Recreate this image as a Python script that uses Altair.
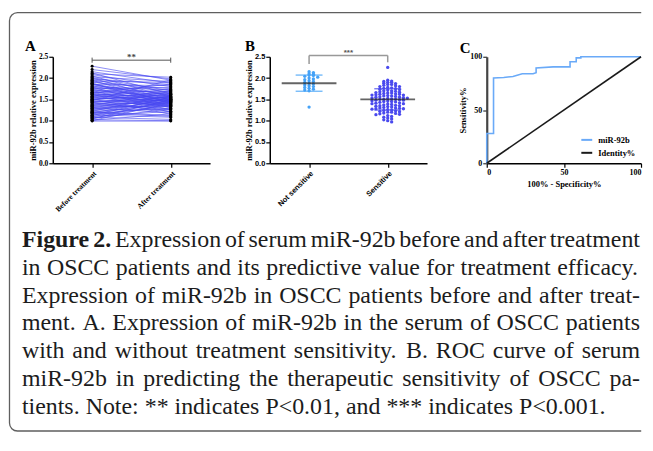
import altair as alt
import pandas as pd
import math

# ---------------- data ----------------
cats_a = ["Before treatment", "After treatment"]
before = [2.28, 2.20, 2.15, 2.12, 2.10, 2.08, 2.05, 2.03, 2.01, 2.00,
          1.98, 1.96, 1.95, 1.93, 1.92, 1.90, 1.88, 1.87, 1.85, 1.84,
          1.82, 1.80, 1.79, 1.78, 1.76, 1.75, 1.74, 1.72, 1.71, 1.70,
          1.68, 1.67, 1.66, 1.65, 1.63, 1.62, 1.61, 1.60, 1.58, 1.57,
          1.56, 1.55, 1.54, 1.52, 1.51, 1.50, 1.49, 1.48, 1.46, 1.45,
          1.44, 1.43, 1.42, 1.40, 1.39, 1.38, 1.36, 1.35, 1.34, 1.33,
          1.31, 1.30, 1.29, 1.28, 1.26, 1.25, 1.24, 1.22, 1.21, 1.20,
          1.18, 1.17, 1.16, 1.14, 1.13, 1.12, 1.10, 1.09, 1.08, 1.06,
          1.05, 1.04, 1.02, 1.01, 1.00, 0.99, 1.19, 1.47, 1.64, 1.86]
after = [1.95, 1.98, 1.88, 1.62, 2.02, 1.80, 1.55, 1.92, 1.70, 1.48,
         1.85, 1.66, 1.40, 1.90, 1.58, 1.75, 1.35, 1.52, 1.82, 1.60,
         1.45, 1.72, 1.30, 1.64, 1.50, 1.78, 1.42, 1.56, 1.25, 1.68,
         1.47, 1.62, 1.38, 1.86, 1.53, 1.20, 1.58, 1.44, 1.74, 1.50,
         1.32, 1.65, 1.46, 1.55, 1.15, 1.60, 1.42, 1.70, 1.36, 1.52,
         1.48, 1.22, 1.63, 1.40, 1.56, 1.28, 1.45, 1.68, 1.33, 1.50,
         1.18, 1.58, 1.42, 1.37, 1.54, 1.26, 1.47, 1.60, 1.12, 1.40,
         1.52, 1.30, 1.44, 1.08, 1.35, 1.56, 1.22, 1.46, 1.03, 1.38,
         1.28, 1.50, 1.00, 1.16, 1.42, 0.99, 1.10, 1.96, 1.34, 1.45]
sig_a = "**"
bracket_a_y = 2.42
bracket_a_cap = [2.36, 2.48]
sig_a_y = 2.50

cats_b = ["Not sensitive", "Sensitive"]
not_sensitive = [2.15, 2.13, 2.10, 2.09, 2.07, 2.06, 2.04, 2.02, 2.00, 1.98,
                 1.96, 1.94, 1.92, 1.90, 1.88, 1.86, 1.84, 1.82, 1.80, 1.78,
                 1.76, 1.74, 1.72, 1.70, 1.32]
sensitive = [2.25,
             1.95, 1.93, 1.92, 1.90, 1.90, 1.88, 1.87, 1.85, 1.85, 1.83,
             1.82, 1.80, 1.80, 1.78, 1.77, 1.76, 1.75, 1.74, 1.73, 1.72,
             1.70, 1.70, 1.69, 1.68, 1.67, 1.66, 1.65, 1.65, 1.64, 1.63,
             1.62, 1.62, 1.61, 1.60, 1.60, 1.59, 1.58, 1.58, 1.57, 1.56,
             1.55, 1.55, 1.54, 1.53, 1.53, 1.52, 1.51, 1.50, 1.50, 1.50,
             1.49, 1.48, 1.48, 1.47, 1.46, 1.45, 1.45, 1.44, 1.43, 1.42,
             1.41, 1.40, 1.40, 1.39, 1.38, 1.37, 1.36, 1.35, 1.35, 1.34,
             1.33, 1.32, 1.31, 1.30, 1.30, 1.29, 1.28, 1.28, 1.27, 1.26,
             1.25, 1.24, 1.23, 1.22, 1.21, 1.20, 1.20, 1.18, 1.17, 1.16,
             1.15, 1.14, 1.12, 1.10, 1.08, 1.06, 1.04, 1.02, 1.00, 0.97]
b_mean = [1.88, 1.50]
b_sd = [0.19, 0.25]
sig_b = "***"
bracket_b_y = 2.53
bracket_b_drop = [2.33, 2.37]
sig_b_y = 2.60

roc_fpr = [0, 0, 4.4, 4.4, 11, 17, 23, 30, 32, 32, 43, 54, 54, 58, 58, 61, 61, 100]
roc_tpr = [0, 28, 28, 80, 80.5, 81.5, 84, 84, 85, 89.5, 90.5, 90.5, 95.3, 95.3, 99, 99, 100, 100]
ident_fpr = [0, 100]
ident_tpr = [0, 100]
legend_names = ["miR-92b", "Identity%"]

panel_letters = ["A", "B", "C"]
y_title_ab = "miR-92b relative expression"
c_x_title = "100% - Specificity%"
c_y_title = "Sensitivity%"

caption_bold = ["Figure", "2."]
caption_lines = [
    "Expression of serum miR-92b before and after treatment",
    "in OSCC patients and its predictive value for treatment efficacy.",
    "Expression of miR-92b in OSCC patients before and after treat-",
    "ment. A. Expression of miR-92b in the serum of OSCC patients",
    "with and without treatment sensitivity. B. ROC curve of serum",
    "miR-92b in predicting the therapeutic sensitivity of OSCC pa-",
    "tients. Note: ** indicates P<0.01, and *** indicates P<0.001.",
]

# ---------------- styling ----------------
SERIF = "Liberation Serif"
SANS = "Liberation Sans"
W, H = 158, 107
WC = 155
COL_A = "#4646f0"
COL_NS = "#45a2f7"
COL_S = "#4a4aee"
COL_ROC = "#6aaaf8"


def x_axis_cat(cats, font):
    expr = f"datum.value == 0 ? '{cats[0]}' : '{cats[1]}'"
    return alt.Axis(values=[0, 1], labelExpr=expr, labelAngle=-45, labelAlign="right",
                    labelBaseline="top", labelFont=font, labelFontWeight="bold",
                    labelFontSize=7.5, labelColor="black", labelPadding=2, tickSize=4,
                    tickColor="black", tickWidth=1.2, domainColor="black", domainWidth=1.5,
                    grid=False, title=None, labelOverlap=False)


def y_axis_expr(label_font):
    return alt.Axis(values=[0, 0.5, 1.0, 1.5, 2.0, 2.5], format=".1f", title=y_title_ab,
                    titleFont=SERIF, titleFontWeight="bold", titleFontSize=8.5,
                    titleColor="black", titlePadding=1, labelFont=label_font,
                    labelFontWeight="bold", labelFontSize=7.5, labelColor="black",
                    labelPadding=1, tickSize=4, tickColor="black", tickWidth=1.2,
                    domainColor="black", domainWidth=1.5, grid=False, labelOverlap=False)


def letter(t, dx, dy):
    return alt.Chart(pd.DataFrame({"t": [t]})).mark_text(
        align="left", baseline="alphabetic", font=SERIF, fontSize=15,
        fontWeight="bold", color="black").encode(x=alt.value(dx), y=alt.value(dy), text="t:N")


def swarm(vals, bw, step):
    counts, offs = {}, []
    for v in vals:
        b = int(round(v / bw))
        k = counts.get(b, 0)
        counts[b] = k + 1
        offs.append(((k + 1) // 2) * step * (1 if k % 2 else -1))
    return offs


xs_cat = alt.Scale(domain=[-0.5, 1.5], nice=False, zero=False)
ys_expr = alt.Scale(domain=[0, 2.5], nice=False)


def enc_xy(xf, yf, cats, xfont, yfont):
    return dict(x=alt.X(xf, scale=xs_cat, axis=x_axis_cat(cats, xfont)),
                y=alt.Y(yf, scale=ys_expr, axis=y_axis_expr(yfont)))


# ---------------- panel A ----------------
n = len(before)
a_long = pd.DataFrame({"pid": list(range(n)) * 2,
                       "xi": [0] * n + [1] * n,
                       "val": before + after})
a_lines = alt.Chart(a_long).mark_line(color=COL_A, opacity=0.62, strokeWidth=1).encode(
    detail="pid:N", **enc_xy("xi:Q", "val:Q", cats_a, SERIF, SERIF))
a_pts = alt.Chart(a_long).mark_circle(color="black", size=9, opacity=1).encode(
    **enc_xy("xi:Q", "val:Q", cats_a, SERIF, SERIF))
a_br = alt.Chart(pd.DataFrame({"xi": [0], "x2": [1], "val": [bracket_a_y]})).mark_rule(
    color="#555", strokeWidth=1).encode(x2="x2:Q", **enc_xy("xi:Q", "val:Q", cats_a, SERIF, SERIF))
a_caps = alt.Chart(pd.DataFrame({"xi": [0, 1], "val": [bracket_a_cap[0]] * 2,
                                 "y2": [bracket_a_cap[1]] * 2})).mark_rule(
    color="#555", strokeWidth=1).encode(y2="y2:Q", **enc_xy("xi:Q", "val:Q", cats_a, SERIF, SERIF))
a_sig = alt.Chart(pd.DataFrame({"xi": [0.5], "val": [sig_a_y], "t": [sig_a]})).mark_text(
    font=SERIF, fontSize=9, fontWeight="bold", color="#444", baseline="middle").encode(
    text="t:N", **enc_xy("xi:Q", "val:Q", cats_a, SERIF, SERIF))
panel_a = alt.layer(a_lines, a_pts, a_br, a_caps, a_sig,
                    letter(panel_letters[0], -28, -6)).properties(width=W, height=H)

# ---------------- panel B ----------------
b_pts_df = pd.DataFrame({
    "grp": [cats_b[0]] * len(not_sensitive) + [cats_b[1]] * len(sensitive),
    "val": not_sensitive + sensitive,
    "xi": [0 + o for o in swarm(not_sensitive, 0.06, 0.055)] +
          [1 + o for o in swarm(sensitive, 0.065, 0.05)]})
b_color = alt.Color("grp:N", scale=alt.Scale(domain=cats_b, range=[COL_NS, COL_S]), legend=None)
eb = lambda yf: enc_xy("xi:Q", yf, cats_b, SANS, SANS)
b_pts = alt.Chart(b_pts_df).mark_circle(size=11, opacity=1).encode(color=b_color, **eb("val:Q"))
b_stats = pd.DataFrame({"grp": cats_b, "xi": [0, 1], "mean": b_mean,
                        "lo": [m - s for m, s in zip(b_mean, b_sd)],
                        "hi": [m + s for m, s in zip(b_mean, b_sd)]})
b_err = alt.Chart(b_stats).mark_rule(strokeWidth=1.3).encode(
    y2="hi:Q", color=b_color, **eb("lo:Q"))
b_cap_lo = alt.Chart(b_stats).mark_tick(orient="horizontal", size=27, thickness=1.5).encode(
    color=b_color, **eb("lo:Q"))
b_cap_hi = alt.Chart(b_stats).mark_tick(orient="horizontal", size=27, thickness=1.5).encode(
    color=b_color, **eb("hi:Q"))
b_mean_t = alt.Chart(b_stats).mark_tick(orient="horizontal", size=55, thickness=2,
                                        color="#222").encode(**eb("mean:Q"))
b_br = alt.Chart(pd.DataFrame({"xi": [0], "x2": [1], "val": [bracket_b_y]})).mark_rule(
    color="#999", strokeWidth=1.5).encode(x2="x2:Q", **eb("val:Q"))
b_drops = alt.Chart(pd.DataFrame({"xi": [0, 1], "val": bracket_b_drop,
                                  "y2": [bracket_b_y] * 2})).mark_rule(
    color="#999", strokeWidth=1.5).encode(y2="y2:Q", **eb("val:Q"))
b_sig = alt.Chart(pd.DataFrame({"xi": [0.5], "val": [sig_b_y], "t": [sig_b]})).mark_text(
    font=SANS, fontSize=8, fontWeight="bold", color="#555", baseline="middle").encode(
    text="t:N", **eb("val:Q"))
panel_b = alt.layer(b_pts, b_err, b_cap_lo, b_cap_hi, b_mean_t, b_br, b_drops, b_sig,
                    letter(panel_letters[1], -25, -6)).properties(width=W, height=H)

# ---------------- panel C ----------------
roc_df = pd.DataFrame({
    "fpr": roc_fpr + ident_fpr,
    "tpr": roc_tpr + ident_tpr,
    "series": [legend_names[0]] * len(roc_fpr) + [legend_names[1]] * len(ident_fpr),
    "ord": list(range(len(roc_fpr))) + list(range(len(ident_fpr)))})
c_lines = alt.Chart(roc_df).mark_line(strokeWidth=1.6).encode(
    x=alt.X("fpr:Q", scale=alt.Scale(domain=[0, 100], nice=False),
            axis=alt.Axis(values=[0, 50, 100], title=c_x_title, titleFont=SERIF,
                          titleFontWeight="bold", titleFontSize=8.5, titleColor="black",
                          titlePadding=3, labelFont=SERIF, labelFontWeight="bold",
                          labelFontSize=8, labelColor="black", labelPadding=1, tickSize=4,
                          tickColor="black", tickWidth=1.2, domainColor="black",
                          domainWidth=1.5, grid=False, labelOverlap=False,
                          labelFlush=True, labelFlushOffset=0)),
    y=alt.Y("tpr:Q", scale=alt.Scale(domain=[0, 100], nice=False),
            axis=alt.Axis(values=[0, 50, 100], title=c_y_title, titleFont=SERIF,
                          titleFontWeight="bold", titleFontSize=8.5, titleColor="black",
                          titlePadding=2, labelFont=SERIF, labelFontWeight="bold",
                          labelFontSize=8, labelColor="black", labelPadding=1, tickSize=4,
                          tickColor="#333", tickWidth=1.2, domainColor="#444",
                          domainWidth=2.2, grid=False, labelOverlap=False)),
    color=alt.Color("series:N", scale=alt.Scale(domain=legend_names, range=[COL_ROC, "#1a1a1a"]),
                    legend=alt.Legend(orient="none", legendX=94, legendY=77, title=None,
                                      direction="vertical", symbolType="stroke",
                                      symbolSize=120, symbolStrokeWidth=2, labelFont=SERIF,
                                      labelFontWeight="bold", labelFontSize=8.5,
                                      labelColor="black", rowPadding=2, padding=0,
                                      labelOffset=5)),
    order="ord:Q")
panel_c = alt.layer(c_lines, letter(panel_letters[2], -27, -4)).properties(width=WC, height=H)

# ---------------- caption ----------------
TIMES = dict(zip("abcdefghijklmnopqrstuvwxyz",
                 [444, 500, 444, 500, 444, 333, 500, 500, 278, 278, 500, 278, 778,
                  500, 500, 500, 500, 333, 389, 278, 500, 500, 722, 500, 500, 444]))
TIMES.update({"A": 722, "B": 667, "C": 667, "E": 611, "N": 722, "O": 722, "P": 556,
              "R": 667, "S": 556, "0": 500, "1": 500, "2": 500, "9": 500, ".": 250,
              ",": 250, "-": 333, ":": 278, "*": 500, "<": 564})
TIMES_BOLD = {"F": 611, "i": 278, "g": 500, "u": 556, "r": 444, "e": 444, "2": 500, ".": 250}
FS = 24
LH = 27.83
VIEW_X = 53          # page x of the caption view origin
CAP_LEFT = 22 - VIEW_X
CAP_RIGHT = 643 - VIEW_X

rows = []
for li, line in enumerate(caption_lines):
    words = line.split(" ")
    bolds = [False] * len(words)
    if li == 0:
        words = caption_bold + words
        bolds = [True] * len(caption_bold) + bolds
    widths = [sum((TIMES_BOLD if b else TIMES)[c] for c in w) * FS / 1000
              for w, b in zip(words, bolds)]
    gap = 250 * FS / 1000
    if li < len(caption_lines) - 1:
        gap = (CAP_RIGHT - CAP_LEFT - sum(widths)) / (len(words) - 1)
    x = CAP_LEFT
    for w, b, wd in zip(words, bolds, widths):
        rows.append({"line": li, "word": w, "bold": b, "px": x})
        x += wd + gap
cap_df = pd.DataFrame(rows)

cap_y = alt.Y("line:Q", scale=alt.Scale(domain=[-0.5, len(caption_lines) - 0.5], reverse=True),
              axis=None)
cap_reg = alt.Chart(cap_df[~cap_df["bold"]]).mark_text(
    align="left", baseline="middle", font=SERIF, fontSize=FS, color="#1c1c1c").encode(
    x=alt.X("px:Q", scale=None, axis=None), y=cap_y, text="word:N")
cap_bold = alt.Chart(cap_df[cap_df["bold"]]).mark_text(
    align="left", baseline="middle", font=SERIF, fontSize=FS, fontWeight="bold",
    color="#1c1c1c").encode(x=alt.X("px:Q", scale=None, axis=None), y=cap_y, text="word:N")
cap_top = 240.5 - LH / 2

# border: rounded on the left, its right edge hidden with a dash (it runs off the page)
BL, BT, BR, BB, RAD = 9.5, 11.7, 644.2, 432, 8
bw, bh = BR - BL, BB - BT
dash = [bw - RAD, bh, (bw - RAD) + bh * 2 + math.pi * RAD + 50]
border = alt.Chart(pd.DataFrame({"k": [0]})).mark_rect(
    filled=False, stroke="#5f5f5f", strokeWidth=1.3, cornerRadiusTopLeft=RAD,
    cornerRadiusBottomLeft=RAD, strokeDash=dash).encode(
    x=alt.value(BL - VIEW_X), x2=alt.value(BR - VIEW_X),
    y=alt.value(BT - cap_top), y2=alt.value(BB - cap_top))
caption = alt.layer(border, cap_reg, cap_bold).properties(width=W, height=LH * len(caption_lines))

chart = alt.concat(panel_a, panel_b, panel_c, caption, columns=3,
                   spacing={"row": cap_top - 163, "column": 60},
                   bounds="flush", align="each").properties(
    padding={"left": 0, "top": 3, "right": 0, "bottom": 0}
).resolve_scale(color="independent").resolve_legend(color="independent"
).configure_view(strokeWidth=0)

chart.save("out.html", embed_options={"renderer": "svg", "actions": False})
